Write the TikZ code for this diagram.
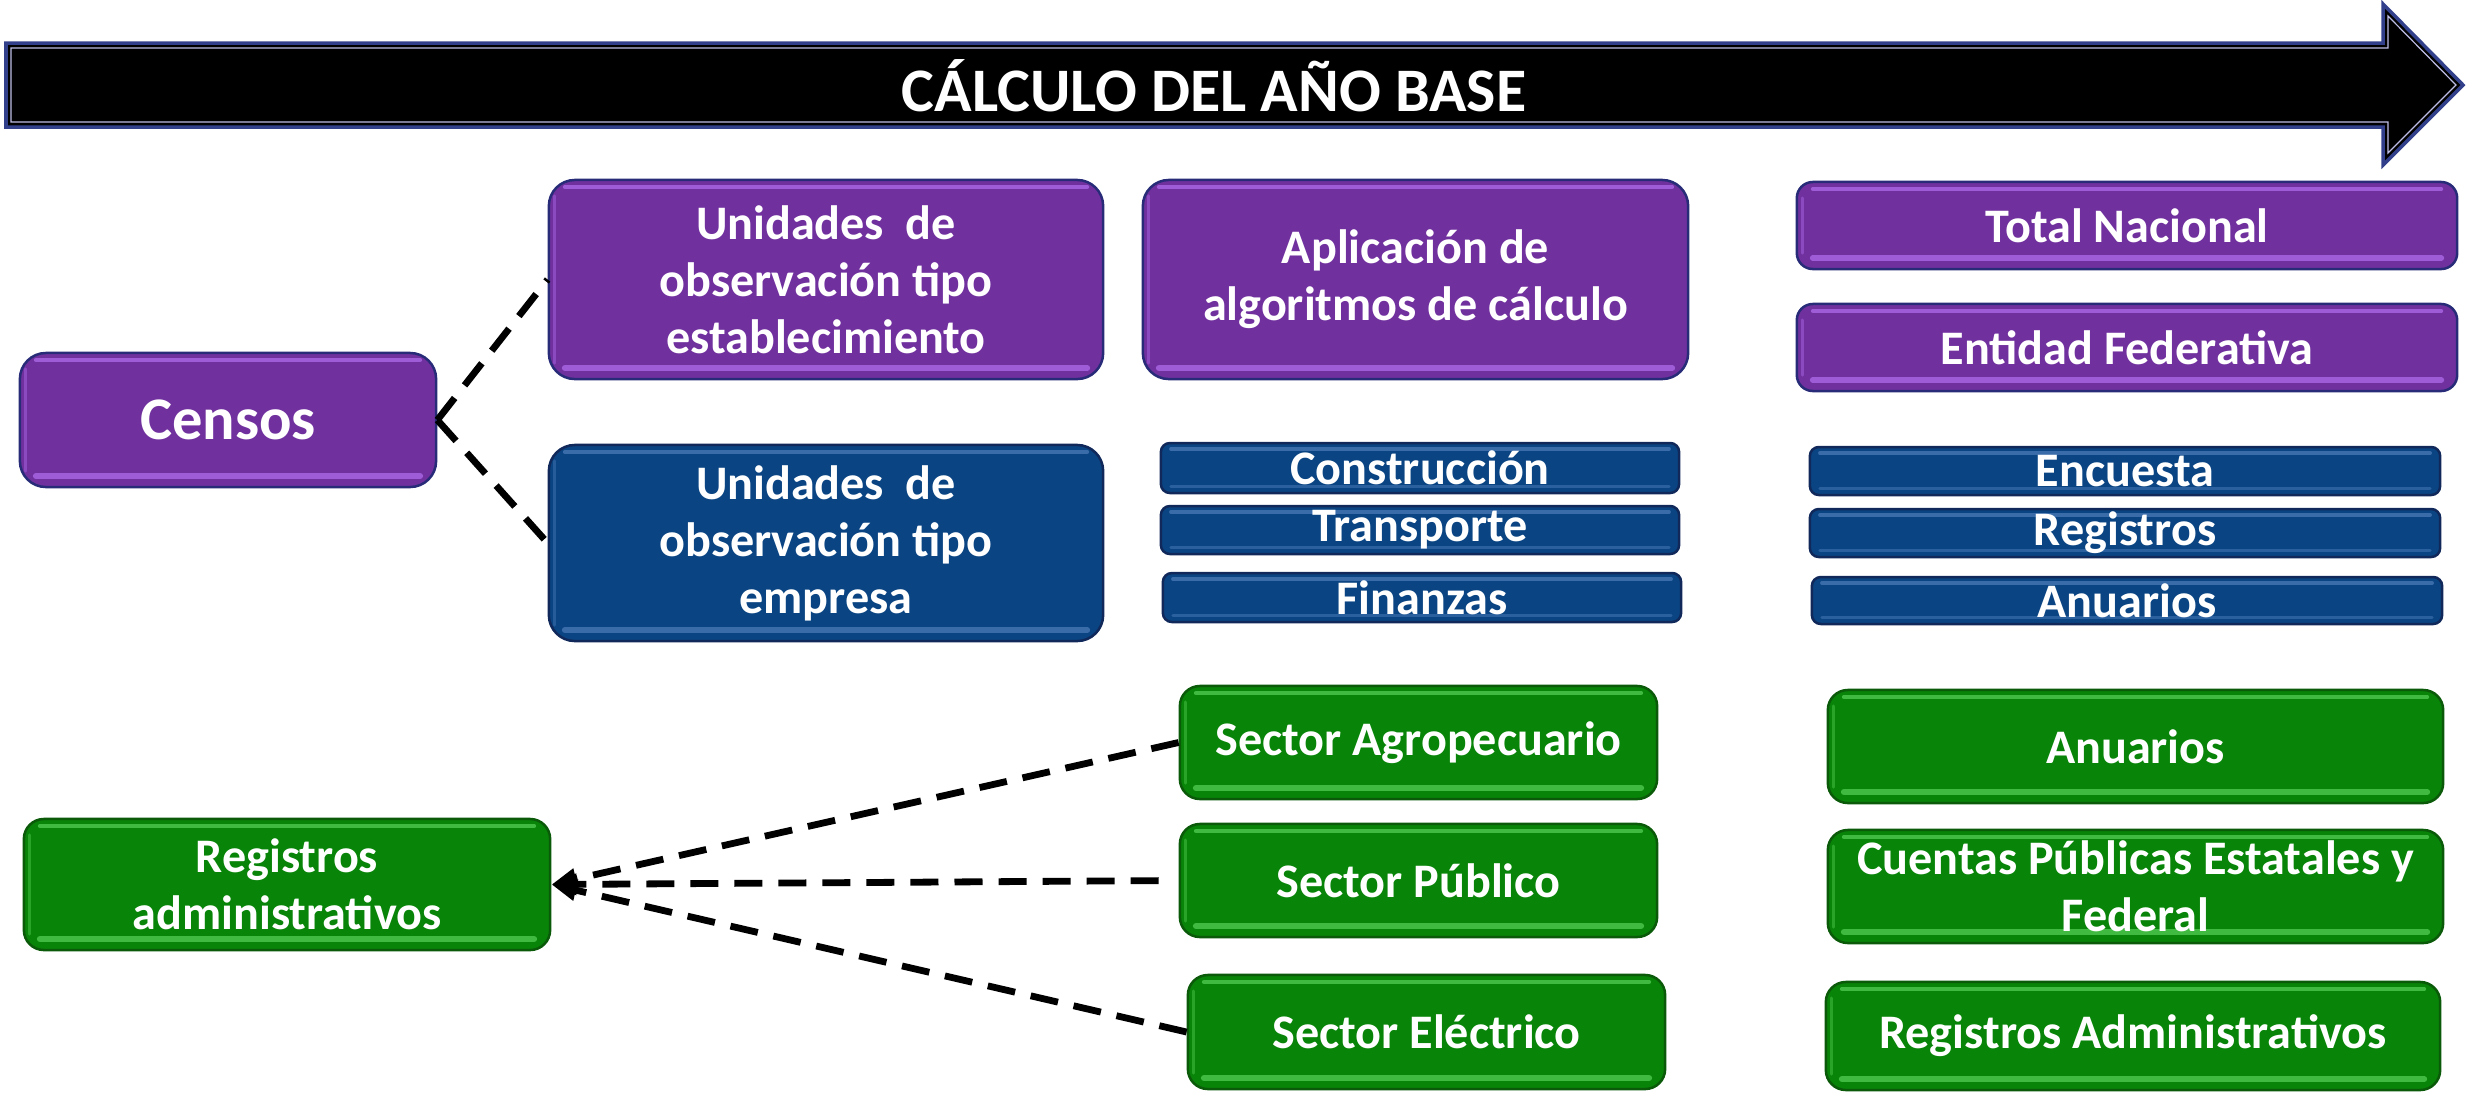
\documentclass[tikz,border=0pt]{standalone}
\usepackage{fontspec}
\setmainfont{Carlito}
\usetikzlibrary{arrows.meta}
\definecolor{pfill}{RGB}{112,48,158}
\definecolor{plight}{RGB}{158,92,214}
\definecolor{pedge}{RGB}{40,44,120}
\definecolor{bfill}{RGB}{10,68,130}
\definecolor{blight}{RGB}{58,108,170}
\definecolor{bedge}{RGB}{16,40,90}
\definecolor{gfill}{RGB}{8,132,8}
\definecolor{glight}{RGB}{64,186,64}
\definecolor{gedge}{RGB}{10,90,10}
\definecolor{arredge}{RGB}{50,64,140}
\definecolor{arrlight}{RGB}{190,190,230}
\tikzset{
  bevel/.style={path picture={
    \draw[#1, line width=0.04cm, line cap=round]
      ([xshift=0.16cm,yshift=-0.07cm]path picture bounding box.north west) --
      ([xshift=-0.16cm,yshift=-0.07cm]path picture bounding box.north east);
    \draw[#1, line width=0.06cm, line cap=round]
      ([xshift=0.16cm,yshift=0.11cm]path picture bounding box.south west) --
      ([xshift=-0.16cm,yshift=0.11cm]path picture bounding box.south east);
    \draw[#1, line width=0.03cm, line cap=round, opacity=0.6]
      ([xshift=0.06cm,yshift=-0.16cm]path picture bounding box.north west) --
      ([xshift=0.06cm,yshift=0.16cm]path picture bounding box.south west);
  }},
  basebox/.style={rectangle, inner sep=0pt, align=center, text=white,
    font=\bfseries\fontsize{13.7}{16.2}\selectfont, line width=0.025cm},
  pbox/.style={basebox, fill=pfill, draw=pedge, rounded corners=0.26cm, bevel=plight},
  bbox/.style={basebox, fill=bfill, draw=bedge, rounded corners=0.26cm, bevel=blight},
  sbbox/.style={basebox, fill=bfill, draw=bedge, rounded corners=0.09cm,
    path picture={
    \draw[blight, line width=0.035cm, line cap=round]
      ([xshift=0.10cm,yshift=-0.06cm]path picture bounding box.north west) --
      ([xshift=-0.10cm,yshift=-0.06cm]path picture bounding box.north east);
    \draw[blight, line width=0.03cm, line cap=round, opacity=0.7]
      ([xshift=0.10cm,yshift=0.07cm]path picture bounding box.south west) --
      ([xshift=-0.10cm,yshift=0.07cm]path picture bounding box.south east);
    }},
  gbox/.style={basebox, fill=gfill, draw=gedge, rounded corners=0.2cm, bevel=glight},
  conn/.style={draw=black, line width=0.068cm, dash pattern=on 0.28cm off 0.16cm},
  tip/.style={-{Triangle[length=0.25cm,width=0.2cm]}}
}
\begin{document}
\begin{tikzpicture}[x=0.01cm, y=-0.01cm]
\useasboundingbox (0,0) rectangle (2466,1093);
% big arrow
\path[fill=black, draw=arredge, line width=0.035cm, line join=miter]
  (6,43) -- (2383,43) -- (2383,4) -- (2463,85) -- (2383,165) -- (2383,127) -- (6,127) -- cycle;
\draw[arrlight, line width=0.012cm]
  (11,48) -- (2388,48) -- (2388,16) -- (2456,85) -- (2388,153) -- (2388,122) -- (11,122) -- cycle;
\fill[black] (14,51) rectangle (2386,119);
\fill[black] (2391,22) -- (2452,85) -- (2391,148) -- cycle;
\node[text=white, font=\bfseries\fontsize{17.6}{21}\selectfont] (title) at (1214,86) {CÁLCULO DEL AÑO BASE};

% purple / blue column 1
\node[pbox, minimum width=4.16cm, minimum height=1.34cm,
      font=\bfseries\fontsize{17.2}{20}\selectfont] (censos) at (228,420) {Censos};
\node[pbox, minimum width=5.54cm, minimum height=1.99cm] (est) at (826,279.5)
  {Unidades~ de\\observación tipo\\establecimiento};
\node[bbox, minimum width=5.54cm, minimum height=1.96cm] (emp) at (826,543)
  {Unidades~ de\\observación tipo\\empresa};

% column 2
\node[pbox, minimum width=5.45cm, minimum height=1.99cm] (aplic) at (1415.5,279.5)
  {Aplicación de\\algoritmos de cálculo};
\node[sbbox, minimum width=5.18cm, minimum height=0.50cm] (constr) at (1420,468) {Construcción};
\node[sbbox, minimum width=5.18cm, minimum height=0.48cm] (transp) at (1420,530) {Transporte};
\node[sbbox, minimum width=5.18cm, minimum height=0.49cm] (finan) at (1422,597.5) {Finanzas};

% column 3
\node[pbox, rounded corners=0.16cm, minimum width=6.60cm, minimum height=0.87cm] (total) at (2127,225.5) {Total Nacional};
\node[pbox, rounded corners=0.16cm, minimum width=6.60cm, minimum height=0.87cm] (entidad) at (2127,347.5) {Entidad Federativa};
\node[sbbox, minimum width=6.30cm, minimum height=0.48cm] (encuesta) at (2125,471) {Encuesta};
\node[sbbox, minimum width=6.30cm, minimum height=0.48cm] (registros) at (2125,533) {Registros};
\node[sbbox, minimum width=6.30cm, minimum height=0.47cm] (anuariosb) at (2127,600.5) {Anuarios};

% green
\node[gbox, minimum width=5.26cm, minimum height=1.31cm] (regadm) at (287,884.5)
  {Registros\\administrativos};
\node[gbox, minimum width=4.77cm, minimum height=1.13cm] (agro) at (1418.5,742.5) {Sector Agropecuario};
\node[gbox, minimum width=4.77cm, minimum height=1.13cm] (publico) at (1418.5,880.5) {Sector Público};
\node[gbox, minimum width=4.77cm, minimum height=1.14cm] (electrico) at (1426.5,1032) {Sector Eléctrico};
\node[gbox, minimum width=6.15cm, minimum height=1.13cm] (anuariosg) at (2135.5,746.5) {Anuarios};
\node[gbox, minimum width=6.15cm, minimum height=1.13cm] (cuentas) at (2135.5,886.5)
  {Cuentas Públicas Estatales y\\Federal};
\node[gbox, minimum width=6.14cm, minimum height=1.08cm] (regadm2) at (2133,1036) {Registros Administrativos};

% connectors
\draw[conn] (censos.east) -- (est.west);
\draw[conn] (censos.east) -- (emp.west);
\draw[conn, tip] (agro.west) -- (regadm.east);
\draw[conn, tip, shorten <=0.2cm] (publico.west) -- (regadm.east);
\draw[conn, tip] (electrico.west) -- (regadm.east);
\end{tikzpicture}
\end{document}
